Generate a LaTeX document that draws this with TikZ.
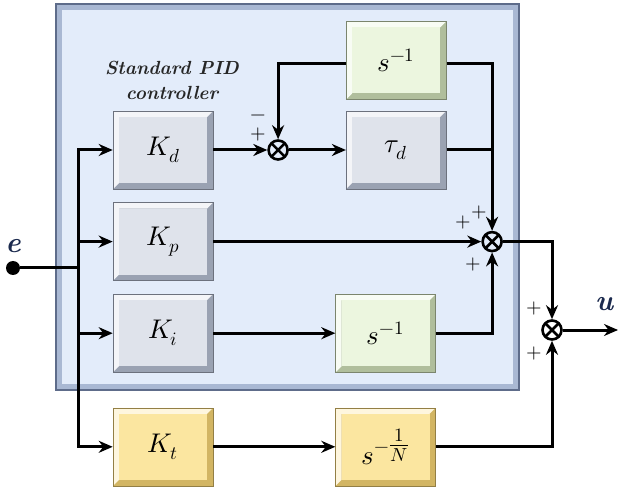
\documentclass[tikz,border=0pt]{standalone}
\usepackage{amsmath}
\usepackage{unicode-math}
\setmathfont{Latin Modern Math}
\usetikzlibrary{arrows.meta,positioning,calc}

\definecolor{panelfill}{HTML}{E3ECFA}
\definecolor{paneledge}{HTML}{A9B8D3}
\definecolor{paneldark}{HTML}{5E6C8A}
\definecolor{gface}{HTML}{DFE3EB}
\definecolor{gdark}{HTML}{9AA2B2}
\definecolor{nface}{HTML}{ECF6DF}
\definecolor{ndark}{HTML}{B0BE9C}
\definecolor{yface}{HTML}{FBE6A0}
\definecolor{ydark}{HTML}{D2B563}
\definecolor{sigcol}{HTML}{1B2A4E}

\begin{document}
\begin{tikzpicture}[x=1pt, y=1pt, node distance=13pt, auto,
    >={Stealth[length=14pt, width=12pt]},
    bevel/.style 2 args={fill=#2, draw=#2!70!black, line width=0.6pt,
    path picture={
      \fill[#1!35!white] (path picture bounding box.south west)
        -- (path picture bounding box.north west)
        -- (path picture bounding box.north east)
        -- ([shift={(-6pt,-6pt)}]path picture bounding box.north east)
        -- ([shift={(6pt,-6pt)}]path picture bounding box.north west)
        -- ([shift={(6pt,6pt)}]path picture bounding box.south west) -- cycle;
      \fill[#1] ([shift={(6pt,6pt)}]path picture bounding box.south west)
        rectangle ([shift={(-6pt,-6pt)}]path picture bounding box.north east);}},
    block/.style={rectangle, minimum width=100pt, minimum height=78pt,
    font=\fontsize{27}{30}\selectfont},
    pblock/.style={block, bevel={gface}{gdark}},
    iblock/.style={block, bevel={nface}{ndark}},
    tblock/.style={block, bevel={yface}{ydark}},
    sum/.style={circle, draw, line width=2.6pt, minimum size=19pt, inner sep=0pt,
    path picture={\draw[line width=2.6pt]
      (path picture bounding box.south west) -- (path picture bounding box.north east)
      (path picture bounding box.north west) -- (path picture bounding box.south east);}},
    dot/.style={circle, fill, inner sep=0pt, minimum size=14pt},
    line/.style={line width=3pt},
    arrow/.style={line, ->},
    sign/.style={inner sep=0pt, font=\fontsize{20}{20}\selectfont},
    sig/.style={inner sep=0pt, text=sigcol, font=\fontsize{29}{29}\selectfont\bfseries\itshape},
    title/.style={align=center, text=black!85,
    font=\fontsize{19}{25}\selectfont\bfseries\itshape}]

    \useasboundingbox (0,0) rectangle (620,490);

    % Controller panel
    \draw[fill=panelfill, draw=paneledge, line width=6pt] (59,103) rectangle (516,483);
    \draw[paneldark, line width=1.2pt] (56,100) rectangle (519,486);
    \node[title] (name) at (172,410) {Standard PID\\controller};

    % Gains
    \node[pblock] (kd) at (163,340) {$K_d$};
    \node[pblock, below=of kd] (kp) {$K_p$};
    \node[pblock, below=of kp] (ki) {$K_i$};
    \node[tblock, below=35pt of ki] (kt) {$K_t$};

    % Derivative filter
    \node[sum, right=54pt of kd] (s1) {};
    \node[pblock, right=57pt of s1] (tau) {$\tau_d$};
    \node[iblock, above=11pt of tau] (sd) {$s^{-1}$};

    % Integrators
    \node[iblock, right=122pt of ki] (si) {$s^{-1}$};
    \node[tblock, right=122pt of kt] (sn) {$s^{-\tfrac{1}{N}}$};

    % Sums
    \node[sum, right=268pt of kp] (s2) {};
    \node[sum] (s3) at (552,160) {};

    % Input and output
    \node[dot] (e) at (13,222) {};
    \node[sig, above=8pt of e] (elab) {e};
    \coordinate (bus) at (78,222);
    \coordinate (uout) at (618,160);
    \node[sig] (ulab) at (604,186) {u};

    % Signs
    \node[sign] (s1m) at ([shift={(-20pt,32pt)}]s1.center) {$-$};
    \node[sign] (s1p) at ([shift={(-20pt,15pt)}]s1.center) {$+$};
    \node[sign] (s2a) at ([shift={(-29pt,19pt)}]s2.center) {$+$};
    \node[sign] (s2b) at ([shift={(-13pt,29pt)}]s2.center) {$+$};
    \node[sign] (s2c) at ([shift={(-19pt,-23pt)}]s2.center) {$+$};
    \node[sign] (s3a) at ([shift={(-18pt,22pt)}]s3.center) {$+$};
    \node[sign] (s3b) at ([shift={(-18pt,-23pt)}]s3.center) {$+$};

    \draw[line] (e) -- (bus);
    \draw[arrow] (bus) |- (kd);
    \draw[arrow] (bus) |- (kp);
    \draw[arrow] (bus) |- (ki);
    \draw[arrow] (bus) |- (kt);

    \draw[arrow] (kd) -- (s1);
    \draw[arrow] (s1) -- (tau);
    \draw[arrow] ([yshift=-3pt]sd.west) -| (s1);
    \draw[arrow] ([yshift=-3pt]sd.east) -| (s2);
    \draw[line] (tau) -- (tau -| s2);

    \draw[arrow] (kp) -- (s2);
    \draw[arrow] (ki) -- (si);
    \draw[arrow] (si) -| (s2);
    \draw[arrow] (kt) -- (sn);
    \draw[arrow] (sn) -| (s3);
    \draw[arrow] (s2) -| (s3);
    \draw[arrow] (s3) -- (uout);
\end{tikzpicture}
\end{document}
